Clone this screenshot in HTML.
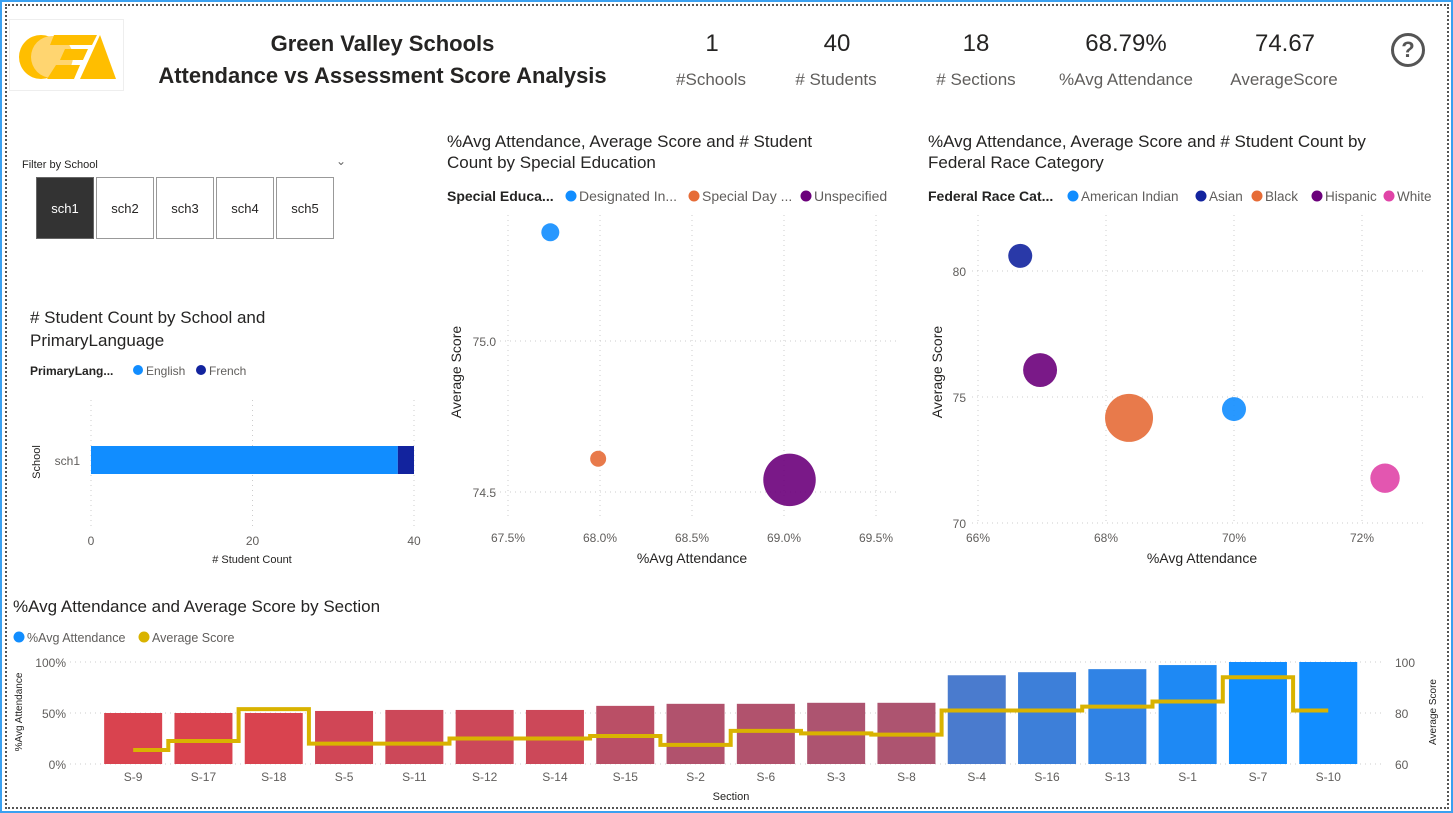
<!DOCTYPE html>
<html><head><meta charset="utf-8">
<style>
*{box-sizing:border-box;margin:0;padding:0}
body{width:1453px;height:813px;background:#fff;font-family:"Liberation Sans",sans-serif;color:#252423;position:relative;overflow:hidden}
.abs{position:absolute}
.frame{left:0;top:0;width:1453px;height:813px;border:2px solid #3aa0f0}
.dots{left:5px;top:4px;width:1444px;height:805px;border:2px dotted #555}
.t{position:absolute;white-space:nowrap}
.kv{font-size:24px;color:#252423;text-align:center;width:160px}
.kl{font-size:17px;color:#605e5c;text-align:center;width:180px}
.btn{position:absolute;top:177px;width:58px;height:62px;border:1px solid #999;font-size:13px;text-align:center;line-height:62px;background:#fff}
svg text{font-family:"Liberation Sans",sans-serif}
</style></head><body>
<div class="abs frame"></div>
<div class="abs dots"></div>

<div class="abs" style="left:9px;top:19px;width:115px;height:72px;border:1px solid #eee">
<svg width="115" height="72" viewBox="0 0 115 72">
<circle cx="31" cy="37" r="22" fill="#FFBE00"/><circle cx="42" cy="37" r="21" fill="#FFD570"/>
<polygon points="44,15 87,15 82,25 40,25" fill="#FFBE00"/><polygon points="55,29 78,29 73,40 50,40" fill="#FFBE00"/>
<polygon points="37,59 46,45 70,45 64,59" fill="#FFBE00"/><polygon points="70,59 90,15 106,59" fill="#FFBE00"/>
</svg></div>
<div class="t" style="left:140px;top:28px;width:485px;text-align:center;font-weight:bold;font-size:22px;line-height:32px">Green Valley Schools<br>Attendance vs Assessment Score Analysis</div>

<div class="t kv" style="left:632px;top:30px">1</div>
<div class="t kl" style="left:621px;top:70px">#Schools</div>
<div class="t kv" style="left:757px;top:30px">40</div>
<div class="t kl" style="left:746px;top:70px"># Students</div>
<div class="t kv" style="left:896px;top:30px">18</div>
<div class="t kl" style="left:886px;top:70px"># Sections</div>
<div class="t kv" style="left:1046px;top:30px">68.79%</div>
<div class="t kl" style="left:1036px;top:70px">%Avg Attendance</div>
<div class="t kv" style="left:1205px;top:30px">74.67</div>
<div class="t kl" style="left:1194px;top:70px">AverageScore</div>
<div class="abs" style="left:1391px;top:33px;width:34px;height:34px;border:3px solid #555;border-radius:50%;text-align:center;font-size:22px;font-weight:bold;line-height:28px;color:#555">?</div>

<div class="t" style="left:22px;top:159px;font-size:11px">Filter by School</div>
<div class="t" style="left:336px;top:154px;font-size:12px;color:#666">&#8964;</div>
<div class="btn" style="left:36px;background:#333;color:#fff;border-color:#666">sch1</div>
<div class="btn" style="left:96px">sch2</div>
<div class="btn" style="left:156px">sch3</div>
<div class="btn" style="left:216px">sch4</div>
<div class="btn" style="left:276px">sch5</div>

<svg class="abs" style="left:0;top:0" width="1453" height="813" id="charts"></svg>

<script>
// ---- data ----
const langCats=["English","French"];
const langVals=[38,2];
const sped=["Designated In...","Special Day ...","Unspecified"];
const spedAtt=[67.73,67.99,69.03];
const spedScore=[75.36,74.61,74.54];
const spedCount=[4,2,34];
const race=["American Indian","Asian","Black","Hispanic","White"];
const raceAtt=[70.0,66.66,68.36,66.97,72.36];
const raceScore=[74.52,80.6,74.17,76.07,71.78];
const raceCount=[4,4,16,8,6];
const sections=["S-9","S-17","S-18","S-5","S-11","S-12","S-14","S-15","S-2","S-6","S-3","S-8","S-4","S-16","S-13","S-1","S-7","S-10"];
const secAtt=[50,50,50,52,53,53,53,57,59,59,60,60,87,90,93,97,100,100];
const secScore=[65.5,69,81.5,68,68,70,70,71,67.5,73,72,71.5,81,81,82.5,84.5,94,81];

const S=document.getElementById('charts');const NS='http://www.w3.org/2000/svg';
function mk(tag,a,txt){const e=document.createElementNS(NS,tag);for(const k in a)e.setAttribute(k,a[k]);if(txt!==undefined)e.textContent=txt;S.appendChild(e);return e;}
function txt(x,y,s,size,fill,anchor,extra){const e=mk('text',Object.assign({x:x,y:y,'font-size':size,fill:fill||'#605e5c','text-anchor':anchor||'start'},extra||{}),s);return e;}
function grid(x1,y1,x2,y2){return mk('line',{x1:x1,y1:y1,x2:x2,y2:y2,stroke:'#ccc','stroke-dasharray':'1,4'});}

// ---- bar chart: student count by language ----
let e;
e=txt(30,323,'# Student Count by School and',17,'#252423');

e=txt(30,346,'PrimaryLanguage',17,'#252423');

e=txt(30,375,'PrimaryLang...',12,'#252423','start',{'font-weight':'bold'});

const langCol=['#118DFF','#12239E'];
let lx=[138,201];
langCats.forEach((c,i)=>{e=mk('circle',{cx:lx[i],cy:370,r:5,fill:langCol[i]});

e=txt(lx[i]+8,375,c,12);});
const bx=v=>91+v*(414-91)/40;
[0,20,40].forEach(v=>{grid(bx(v),400,bx(v),528);e=txt(bx(v),545,String(v),12,'#605e5c','middle');
});
let acc=0;
langVals.forEach((v,i)=>{e=mk('rect',{x:bx(acc),y:446,width:bx(acc+v)-bx(acc),height:28,fill:langCol[i]});
acc+=v;});
e=txt(80,465,'sch1',12,'#605e5c','end');
e=txt(40,462,'School',11,'#252423','middle',{transform:'rotate(-90 40 462)'});
e=txt(252,563,'# Student Count',11,'#252423','middle');

// ---- scatter 1 ----
e=txt(447,147,'%Avg Attendance, Average Score and # Student',17,'#252423');
e=txt(447,168,'Count by Special Education',17,'#252423');
e=txt(447,201,'Special Educa...',14,'#252423','start',{'font-weight':'bold'});
const spedCol=['#118DFF','#E66C37','#6B007B'];
const spedLx=[571,694,806];
sped.forEach((c,i)=>{e=mk('circle',{cx:spedLx[i],cy:196,r:5.5,fill:spedCol[i]});
e=txt(spedLx[i]+8,201,c,14);});
const s1x=v=>508+(v-67.5)*184, s1y=v=>341-(v-75)*302;
[67.5,68,68.5,69,69.5].forEach(v=>{grid(s1x(v),215,s1x(v),520);e=txt(s1x(v),542,v.toFixed(1)+'%',12,'#605e5c','middle');});
[75,74.5].forEach(v=>{grid(485,s1y(v),900,s1y(v));e=txt(496,s1y(v)+5,v.toFixed(1),12,'#605e5c','end');});
const rS=c=>4.5*Math.sqrt(c);
sped.forEach((c,i)=>{e=mk('circle',{cx:s1x(spedAtt[i]),cy:s1y(spedScore[i]),r:Math.max(8,rS(spedCount[i])),fill:spedCol[i],'fill-opacity':0.9});});
e=txt(692,563,'%Avg Attendance',14,'#252423','middle');
e=txt(461,372,'Average Score',14,'#252423','middle',{transform:'rotate(-90 461 372)'});

// ---- scatter 2 ----
e=txt(928,147,'%Avg Attendance, Average Score and # Student Count by',17,'#252423');
e=txt(928,168,'Federal Race Category',17,'#252423');
e=txt(928,201,'Federal Race Cat...',14,'#252423','start',{'font-weight':'bold'});
const raceCol=['#118DFF','#12239E','#E66C37','#6B007B','#E044A7'];
const raceLx=[1073,1201,1257,1317,1389];
race.forEach((c,i)=>{e=mk('circle',{cx:raceLx[i],cy:196,r:5.5,fill:raceCol[i]});
e=txt(raceLx[i]+8,201,c,13.5);});
const s2x=v=>978+(v-66)*64, s2y=v=>397-(v-75)*25.2;
[66,68,70,72].forEach(v=>{grid(s2x(v),215,s2x(v),525);e=txt(s2x(v),542,v+'%',12,'#605e5c','middle');});
[80,75,70].forEach(v=>{grid(972,s2y(v),1425,s2y(v));e=txt(966,s2y(v)+5,String(v),12,'#605e5c','end');});
race.forEach((c,i)=>{e=mk('circle',{cx:s2x(raceAtt[i]),cy:s2y(raceScore[i]),r:6*Math.sqrt(raceCount[i]),fill:raceCol[i],'fill-opacity':0.9});});
e=txt(1202,563,'%Avg Attendance',14,'#252423','middle');
e=txt(942,372,'Average Score',14,'#252423','middle',{transform:'rotate(-90 942 372)'});

// ---- combo chart ----
e=txt(13,612,'%Avg Attendance and Average Score by Section',17,'#252423');
e=mk('circle',{cx:19,cy:637,r:5.5,fill:'#118DFF'});
e=txt(27,642,'%Avg Attendance',12.5);
e=mk('circle',{cx:144,cy:637,r:5.5,fill:'#D9B300'});
e=txt(152,642,'Average Score',12.5);
const L=98,W=70.3,cx=i=>L+W*i+W/2, ay=v=>764-v*1.02, sy=v=>764-(v-60)*2.55;
[0,50,100].forEach(v=>{grid(70,ay(v),1385,ay(v));e=txt(66,ay(v)+5,v+'%',12,'#605e5c','end');});
[60,80,100].forEach(v=>{e=txt(1395,sy(v)+5,String(v),12,'#605e5c','start');});
const stops=[[50,[217,67,79]],[60,[173,84,112]],[87,[74,123,206]],[100,[17,141,255]]];
function col(v){for(let k=0;k<stops.length-1;k++){const a=stops[k],b=stops[k+1];if(v<=b[0]){const t=Math.max(0,(v-a[0])/(b[0]-a[0]));return 'rgb('+a[1].map((c,j)=>Math.round(c+(b[1][j]-c)*t)).join(',')+')';}}return 'rgb(17,141,255)';}
sections.forEach((s,i)=>{e=mk('rect',{x:cx(i)-29,y:ay(secAtt[i]),width:58,height:764-ay(secAtt[i]),fill:col(secAtt[i])});

e=txt(cx(i),781,s,12,'#605e5c','middle');});
let d='M'+cx(0)+' '+sy(secScore[0]);
secScore.forEach((v,i)=>{const x0=i===0?cx(0):cx(i)-W/2;d+=' L'+x0+' '+sy(v);d+=' L'+(i===secScore.length-1?cx(i):cx(i)+W/2)+' '+sy(v);});
e=mk('path',{d:d,fill:'none',stroke:'#D9B300','stroke-width':4});
e=txt(731,800,'Section',11,'#252423','middle');
e=txt(22,712,'%Avg Attendance',10,'#252423','middle',{transform:'rotate(-90 22 712)'});
e=txt(1436,712,'Average Score',10,'#252423','middle',{transform:'rotate(-90 1436 712)'});
</script>
</body></html>
